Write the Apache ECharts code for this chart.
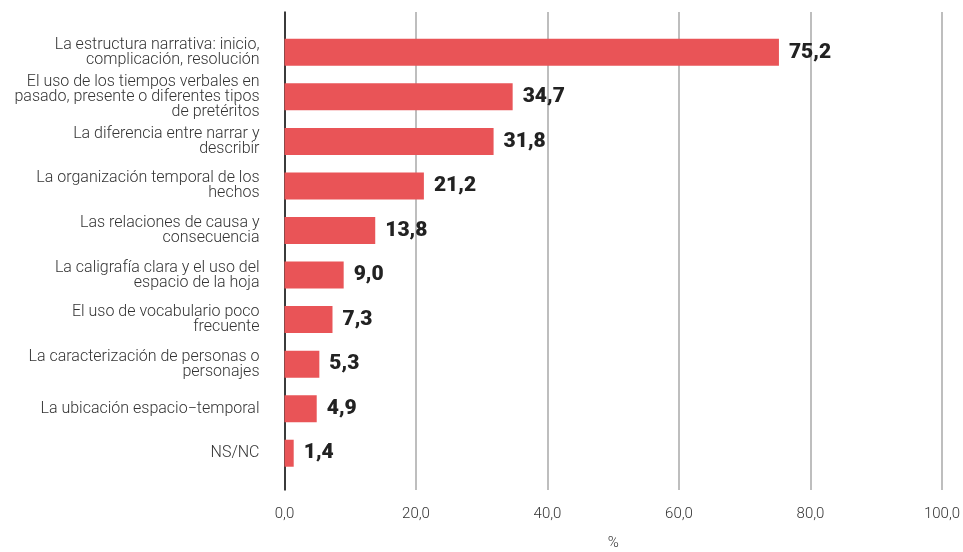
<!DOCTYPE html>
<html>
<head>
<meta charset="utf-8">
<script src="https://cdn.jsdelivr.net/npm/echarts@6/dist/echarts.min.js"></script>
<style>html,body{margin:0;padding:0;background:#fff}#c{width:963px;height:552px}</style>
</head>
<body>
<div id="c"></div>
<script>
const categories = [
  "La estructura narrativa: inicio,\ncomplicación, resolución",
  "El uso de los tiempos verbales en\npasado, presente o diferentes tipos\nde pretéritos",
  "La diferencia entre narrar y\ndescribir",
  "La organización temporal de los\nhechos",
  "Las relaciones de causa y\nconsecuencia",
  "La caligrafía clara y el uso del\nespacio de la hoja",
  "El uso de vocabulario poco\nfrecuente",
  "La caracterización de personas o\npersonajes",
  "La ubicación espacio−temporal",
  "NS/NC"
];
const values = [75.2, 34.7, 31.8, 21.2, 13.8, 9.0, 7.3, 5.3, 4.9, 1.4];
const xTicks = [0, 20, 40, 60, 80, 100];
const axisName = "%";

const fmt = v => v.toFixed(1).replace('.', ',');
const chart = echarts.init(document.getElementById('c'), null, {renderer: 'canvas'});
chart.setOption({
  animation: false,
  grid: [
    {left: 284.5, right: 21, top: 30, height: 445.5, outerBoundsMode: 'none', containLabel: false},
    {left: 284.5, right: 21, top: 12, bottom: 62, outerBoundsMode: 'none', containLabel: false}
  ],
  xAxis: [
    {gridIndex: 0, type: 'value', min: xTicks[0], max: xTicks[xTicks.length-1], show: false},
    {gridIndex: 1, type: 'value', min: xTicks[0], max: xTicks[xTicks.length-1], interval: 20,
     axisLine: {show: false}, axisTick: {show: false},
     splitLine: {show: true, lineStyle: {color: '#a8a8a8', width: 1.5}},
     axisLabel: {formatter: v => fmt(v), fontFamily: 'Roboto', fontWeight: 300, fontSize: 15, color: '#333', margin: 17},
     name: axisName, nameLocation: 'middle', nameGap: 46,
     nameTextStyle: {fontFamily: 'Roboto', fontWeight: 300, fontSize: 15, color: '#333'}}
  ],
  yAxis: [
    {gridIndex: 0, type: 'category', data: categories, inverse: true,
     axisLine: {show: false}, axisTick: {show: false}, splitLine: {show: false},
     axisLabel: {fontFamily: 'Roboto', fontWeight: 300, fontSize: 16, lineHeight: 15, color: '#333', margin: 25, align: 'right'}},
    {gridIndex: 1, type: 'value', min: 0, max: 1,
     axisLine: {show: true, onZero: false, lineStyle: {color: '#111', width: 1.5}},
     axisTick: {show: false}, axisLabel: {show: false}, splitLine: {show: false}}
  ],
  series: [{
    type: 'bar', xAxisIndex: 0, yAxisIndex: 0,
    data: values, barWidth: 27, z: 5,
    itemStyle: {color: '#E95457'},
    label: {show: true, position: 'right', distance: 10, formatter: p => fmt(p.value),
      fontFamily: 'Roboto', fontWeight: 900, fontSize: 21, color: '#222'}
  }]
});
</script>
</body>
</html>
